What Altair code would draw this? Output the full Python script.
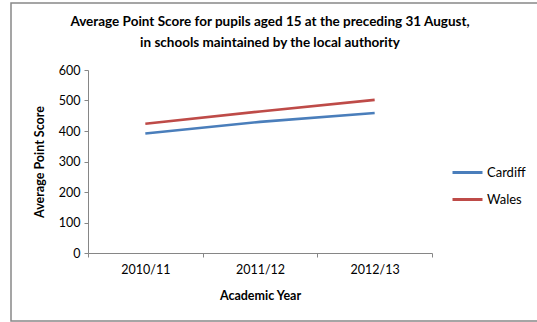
import altair as alt
import pandas as pd

years = ["2010/11", "2011/12", "2012/13"]
cardiff = [392, 430, 459]
wales = [424, 464, 502]
series = ["Cardiff", "Wales"]
colors = ["#4a7ebb", "#be4b48"]
title_lines = ["Average Point Score for pupils aged 15 at the preceding 31 August,",
               "in schools maintained by the local authority"]

rows = []
for name, vals in zip(series, [cardiff, wales]):
    for y, v in zip(years, vals):
        rows.append({"Year": y, "Series": name, "Score": v})
df = pd.DataFrame(rows)

FONT = "Lato"

lines = alt.Chart(df).mark_line(strokeWidth=2.6).encode(
    x=alt.X("Year:O", sort=years,
            scale=alt.Scale(type="band", paddingInner=0, paddingOuter=0),
            axis=alt.Axis(title="Academic Year", labelAngle=0, tickBand="extent",
                          titleFontWeight="bold", titleFontSize=12.5, titlePadding=14,
                          labelFontSize=12.5, labelPadding=6)),
    y=alt.Y("Score:Q", scale=alt.Scale(domain=[0, 600]),
            axis=alt.Axis(title="Average Point Score", values=[0, 100, 200, 300, 400, 500, 600],
                          grid=False, titleFontWeight="bold", titleFontSize=12.5,
                          labelFontSize=12.5, titlePadding=12, labelPadding=4)),
    color=alt.Color("Series:N", sort=series,
                    scale=alt.Scale(domain=series, range=colors),
                    legend=alt.Legend(title=None, orient="none", legendX=363, legendY=86,
                                      symbolType="stroke", symbolSize=900,
                                      symbolStrokeWidth=3, labelFontSize=13,
                                      rowPadding=3, labelOffset=3)),
)

border = alt.Chart(pd.DataFrame({"a": [0]})).mark_rect(
    fill=None, stroke="#888888", strokeWidth=1.5
).encode(
    x=alt.value(-77), x2=alt.value(460), y=alt.value(-67), y2=alt.value(251)
)

t1 = alt.Chart(pd.DataFrame({"a": [0]})).mark_text(
    fontSize=13.5, fontWeight="bold", font=FONT, color="#000000", baseline="middle", align="center"
).encode(x=alt.value(182), y=alt.value(-48), text=alt.value(title_lines[0]))
t2 = alt.Chart(pd.DataFrame({"a": [0]})).mark_text(
    fontSize=13.5, fontWeight="bold", font=FONT, color="#000000", baseline="middle", align="center"
).encode(x=alt.value(182), y=alt.value(-27), text=alt.value(title_lines[1]))

chart = alt.layer(border, t1, t2, lines).properties(
    width=344, height=183,
    padding={"left": 88, "top": 70, "right": 105, "bottom": 69},
    autosize=alt.AutoSizeParams(type="none"),
).configure(font=FONT, background="white").configure_view(stroke=None).configure_axis(
    domainColor="#868686", tickColor="#868686", tickSize=4,
    labelColor="#000000", titleColor="#000000", labelFont=FONT, titleFont=FONT
).configure_legend(labelFont=FONT, labelColor="#000000")

chart.save("out.html", embed_options={"renderer": "svg", "actions": False})
